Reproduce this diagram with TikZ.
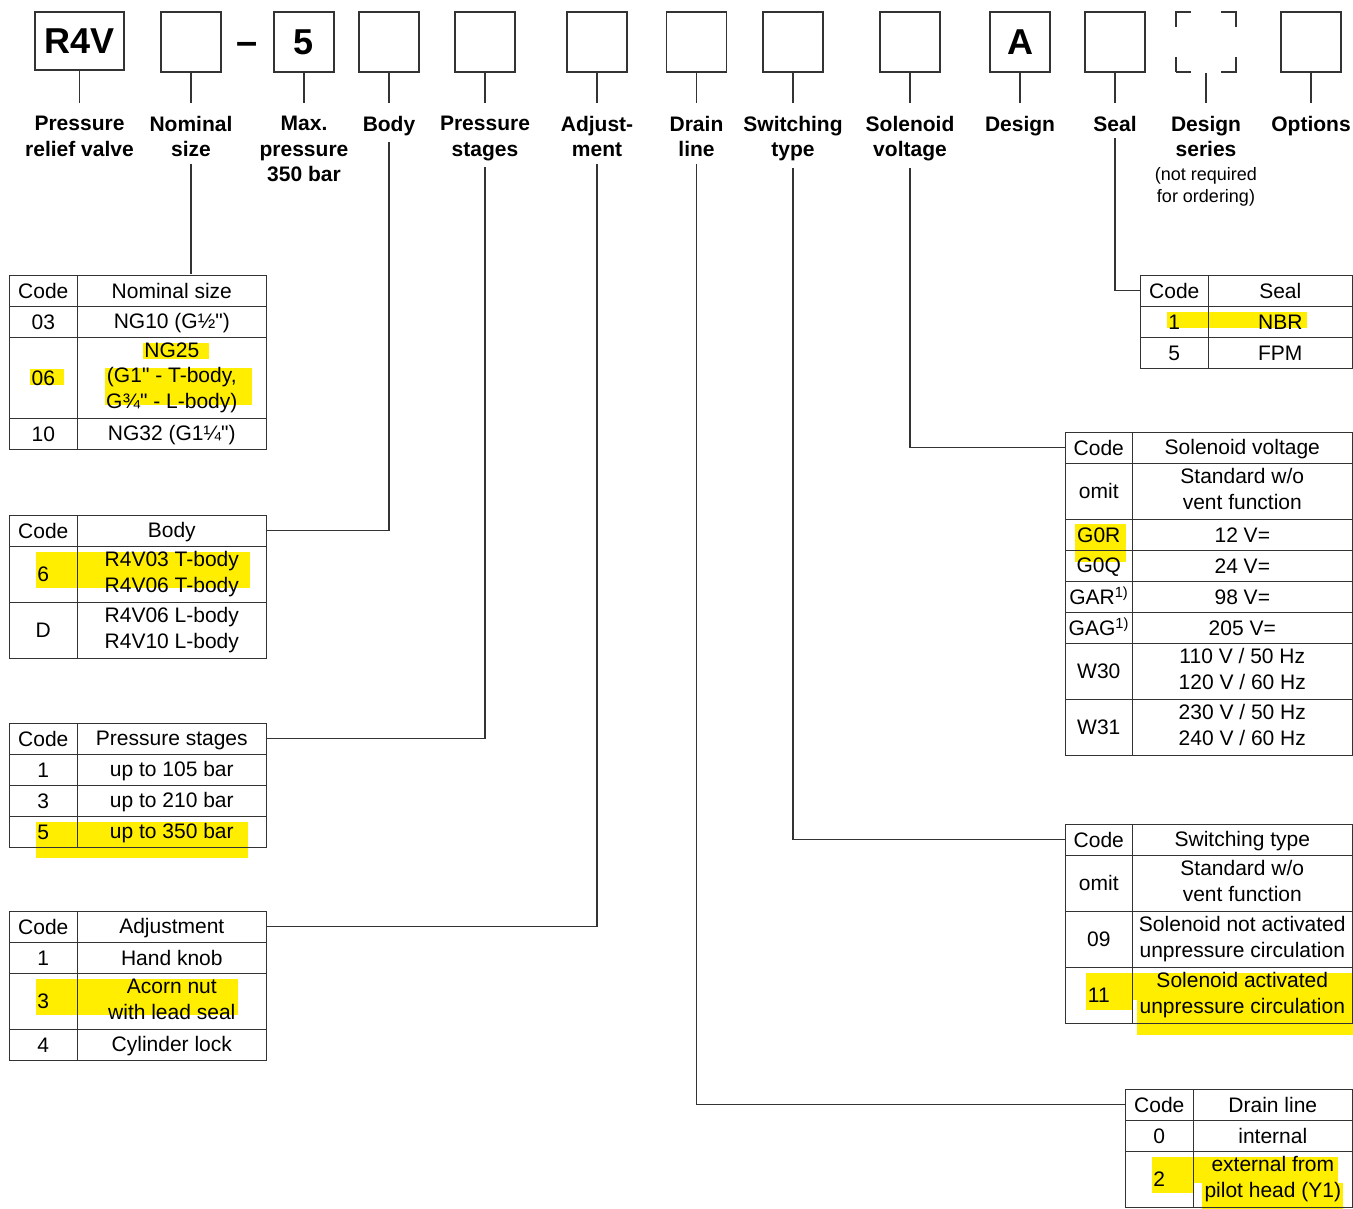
\documentclass[tikz,border=0pt]{standalone}
\usepackage{fontspec}
\setmainfont{Liberation Sans}
\usepackage{tikz}
\usetikzlibrary{matrix,positioning}
\definecolor{marker}{RGB}{255,238,0}
\def\bigfont{\fontsize{36}{40}\selectfont\bfseries}
\def\cellfont{\fontsize{21}{25.5}\selectfont}
\newcommand\stack[1]{\begin{tabular}{@{}c@{}}#1\end{tabular}}
\def\q{\textquotedbl}

\begin{document}
\begin{tikzpicture}[
	x=1pt, y=-1pt,
	line width=1.3pt,
	box/.style={draw=black!80, minimum width=60, minimum height=60, inner sep=0, font=\bigfont},
	lbl/.style={anchor=north, align=center, inner sep=0, font=\cellfont\bfseries},
	note/.style={anchor=north, align=center, inner sep=0, font=\fontsize{18}{22}\selectfont},
	tbl/.style={matrix of nodes, anchor=north west, inner sep=0, row sep=-1.3pt, column sep=-1.3pt,
		nodes={draw=black!80, inner sep=0, minimum height=31, anchor=center, font=\cellfont,
		execute at begin node={\rule[-2pt]{0pt}{19pt}}}},
	wire/.style={draw=black!80}
	]
	\useasboundingbox (0,0) rectangle (1353,1209);

	% marked codes
	\foreach \a/\b/\c/\d in {30/369/64/385, 143/343/209/359, 105/368/252/405,
		36/552/250/588, 36/822/248/858, 36/979/238/1015, 1167/312/1307/328,
		1075/524/1126/562, 1086/973/1132/1010, 1131/973/1352/1000, 1137/997/1353/1035,
		1152/1157/1193/1193, 1193/1157/1338/1183, 1202/1183/1343/1209}
		\fill[marker] (\a,\b) rectangle (\c,\d);

	% ordering code
	\node[box, minimum width=89, minimum height=58] (pv) at (79.5,41) {R4V};
	\foreach \n/\x/\t in {ns/191/{}, mp/304/5, bd/389/{}, ps/485/{}, adj/597/{}, dl/696.5/{},
		sw/793/{}, sv/910/{}, ds/1020/A, sl/1115/{}, opt/1311/{}}
		\node[box] (\n) at (\x,42) {\t};
	\node[box, dash pattern=on 30pt off 30pt, dash phase=15pt] (dss) at (1206,42) {};
	\node[font=\fontsize{38}{40}\selectfont\bfseries, inner sep=0] (sep) at (247,48) {–};

	\coordinate (row) at (0,115.5);
	\foreach \n/\t in {pv/{Pressure\\relief valve}, ns/{Nominal\\size}, mp/{Max.\\pressure\\350 bar},
		bd/Body, ps/{Pressure\\stages}, adj/{Adjust-\\ment}, dl/{Drain\\line}, sw/{Switching\\type},
		sv/{Solenoid\\voltage}, ds/Design, sl/Seal, dss/{Design\\series}, opt/Options}
	{
		\node[lbl] (\n-l) at (\n |- row) {\t};
		\draw[wire] (\n) -- ([yshift=12]\n-l.north);
	}
	\node[note] (dss-n) at ([yshift=-9]dss-l.south) {(not required\\for ordering)};

	% tables left
	\matrix (ns-t) [tbl, column 1/.style={nodes={minimum width=68}}, column 2/.style={nodes={minimum width=189}},
		row 3/.style={nodes={minimum height=81}}] at (8,274) {
		Code & Nominal size \\
		03 & NG10 (G½\q) \\
		06 & \stack{NG25\\(G1\q{} - T-body,\\G¾\q{} - L-body)} \\
		10 & NG32 (G1¼\q) \\
	};
	\matrix (bd-t) [tbl, column 1/.style={nodes={minimum width=68}}, column 2/.style={nodes={minimum width=189}},
		row 2/.style={nodes={minimum height=56}}, row 3/.style={nodes={minimum height=56}}] at (8,514) {
		Code & Body \\
		6 & \stack{R4V03 T-body\\R4V06 T-body} \\
		D & \stack{R4V06 L-body\\R4V10 L-body} \\
	};
	\matrix (ps-t) [tbl, column 1/.style={nodes={minimum width=68}}, column 2/.style={nodes={minimum width=189}}] at (8,722) {
		Code & Pressure stages \\
		1 & up to 105 bar \\
		3 & up to 210 bar \\
		5 & up to 350 bar \\
	};
	\matrix (adj-t) [tbl, column 1/.style={nodes={minimum width=68}}, column 2/.style={nodes={minimum width=189}},
		row 3/.style={nodes={minimum height=56}}] at (8,910) {
		Code & Adjustment \\
		1 & Hand knob \\
		3 & \stack{Acorn nut\\with lead seal} \\
		4 & Cylinder lock \\
	};

	% tables right
	\matrix (sl-t) [tbl, column 1/.style={nodes={minimum width=68}}, column 2/.style={nodes={minimum width=144}}] at (1139,274) {
		Code & Seal \\
		1 & NBR \\
		5 & FPM \\
	};
	\matrix (sv-t) [tbl, column 1/.style={nodes={minimum width=67}}, column 2/.style={nodes={minimum width=220}},
		row 2/.style={nodes={minimum height=56}}, row 7/.style={nodes={minimum height=56}},
		row 8/.style={nodes={minimum height=56}}] at (1064,431) {
		Code & Solenoid voltage \\
		omit & \stack{Standard w/o\\vent function} \\
		G0R & 12 V= \\
		G0Q & 24 V= \\
		GAR\textsuperscript{1)} & 98 V= \\
		GAG\textsuperscript{1)} & 205 V= \\
		W30 & \stack{110 V / 50 Hz\\120 V / 60 Hz} \\
		W31 & \stack{230 V / 50 Hz\\240 V / 60 Hz} \\
	};
	\matrix (sw-t) [tbl, column 1/.style={nodes={minimum width=67}}, column 2/.style={nodes={minimum width=220}},
		row 2/.style={nodes={minimum height=56}}, row 3/.style={nodes={minimum height=56}},
		row 4/.style={nodes={minimum height=56}}] at (1064,823) {
		Code & Switching type \\
		omit & \stack{Standard w/o\\vent function} \\
		09 & \stack{Solenoid not activated\\unpressure circulation} \\
		11 & \stack{Solenoid activated\\unpressure circulation} \\
	};
	\matrix (dl-t) [tbl, column 1/.style={nodes={minimum width=68}}, column 2/.style={nodes={minimum width=159}},
		row 3/.style={nodes={minimum height=56}}] at (1124,1088) {
		Code & Drain line \\
		0 & internal \\
		2 & \stack{external from\\pilot head (Y1)} \\
	};

	% connectors
	\draw[wire] ([yshift=-6]ns-l.south) -- (ns-l.south |- ns-t.north);
	\draw[wire] ([yshift=-6]bd-l.south) |- (bd-t-1-2.east);
	\draw[wire] ([yshift=-6]ps-l.south) |- (ps-t-1-2.east);
	\draw[wire] ([yshift=-6]adj-l.south) |- (adj-t-1-2.east);
	\draw[wire] ([yshift=-6]dl-l.south) |- (dl-t-1-1.west);
	\draw[wire] ([yshift=-6]sw-l.south) |- (sw-t-1-1.west);
	\draw[wire] ([yshift=-6]sv-l.south) |- (sv-t-1-1.west);
	\draw[wire] ([yshift=-6]sl-l.south) |- (sl-t-1-1.west);
\end{tikzpicture}
\end{document}
